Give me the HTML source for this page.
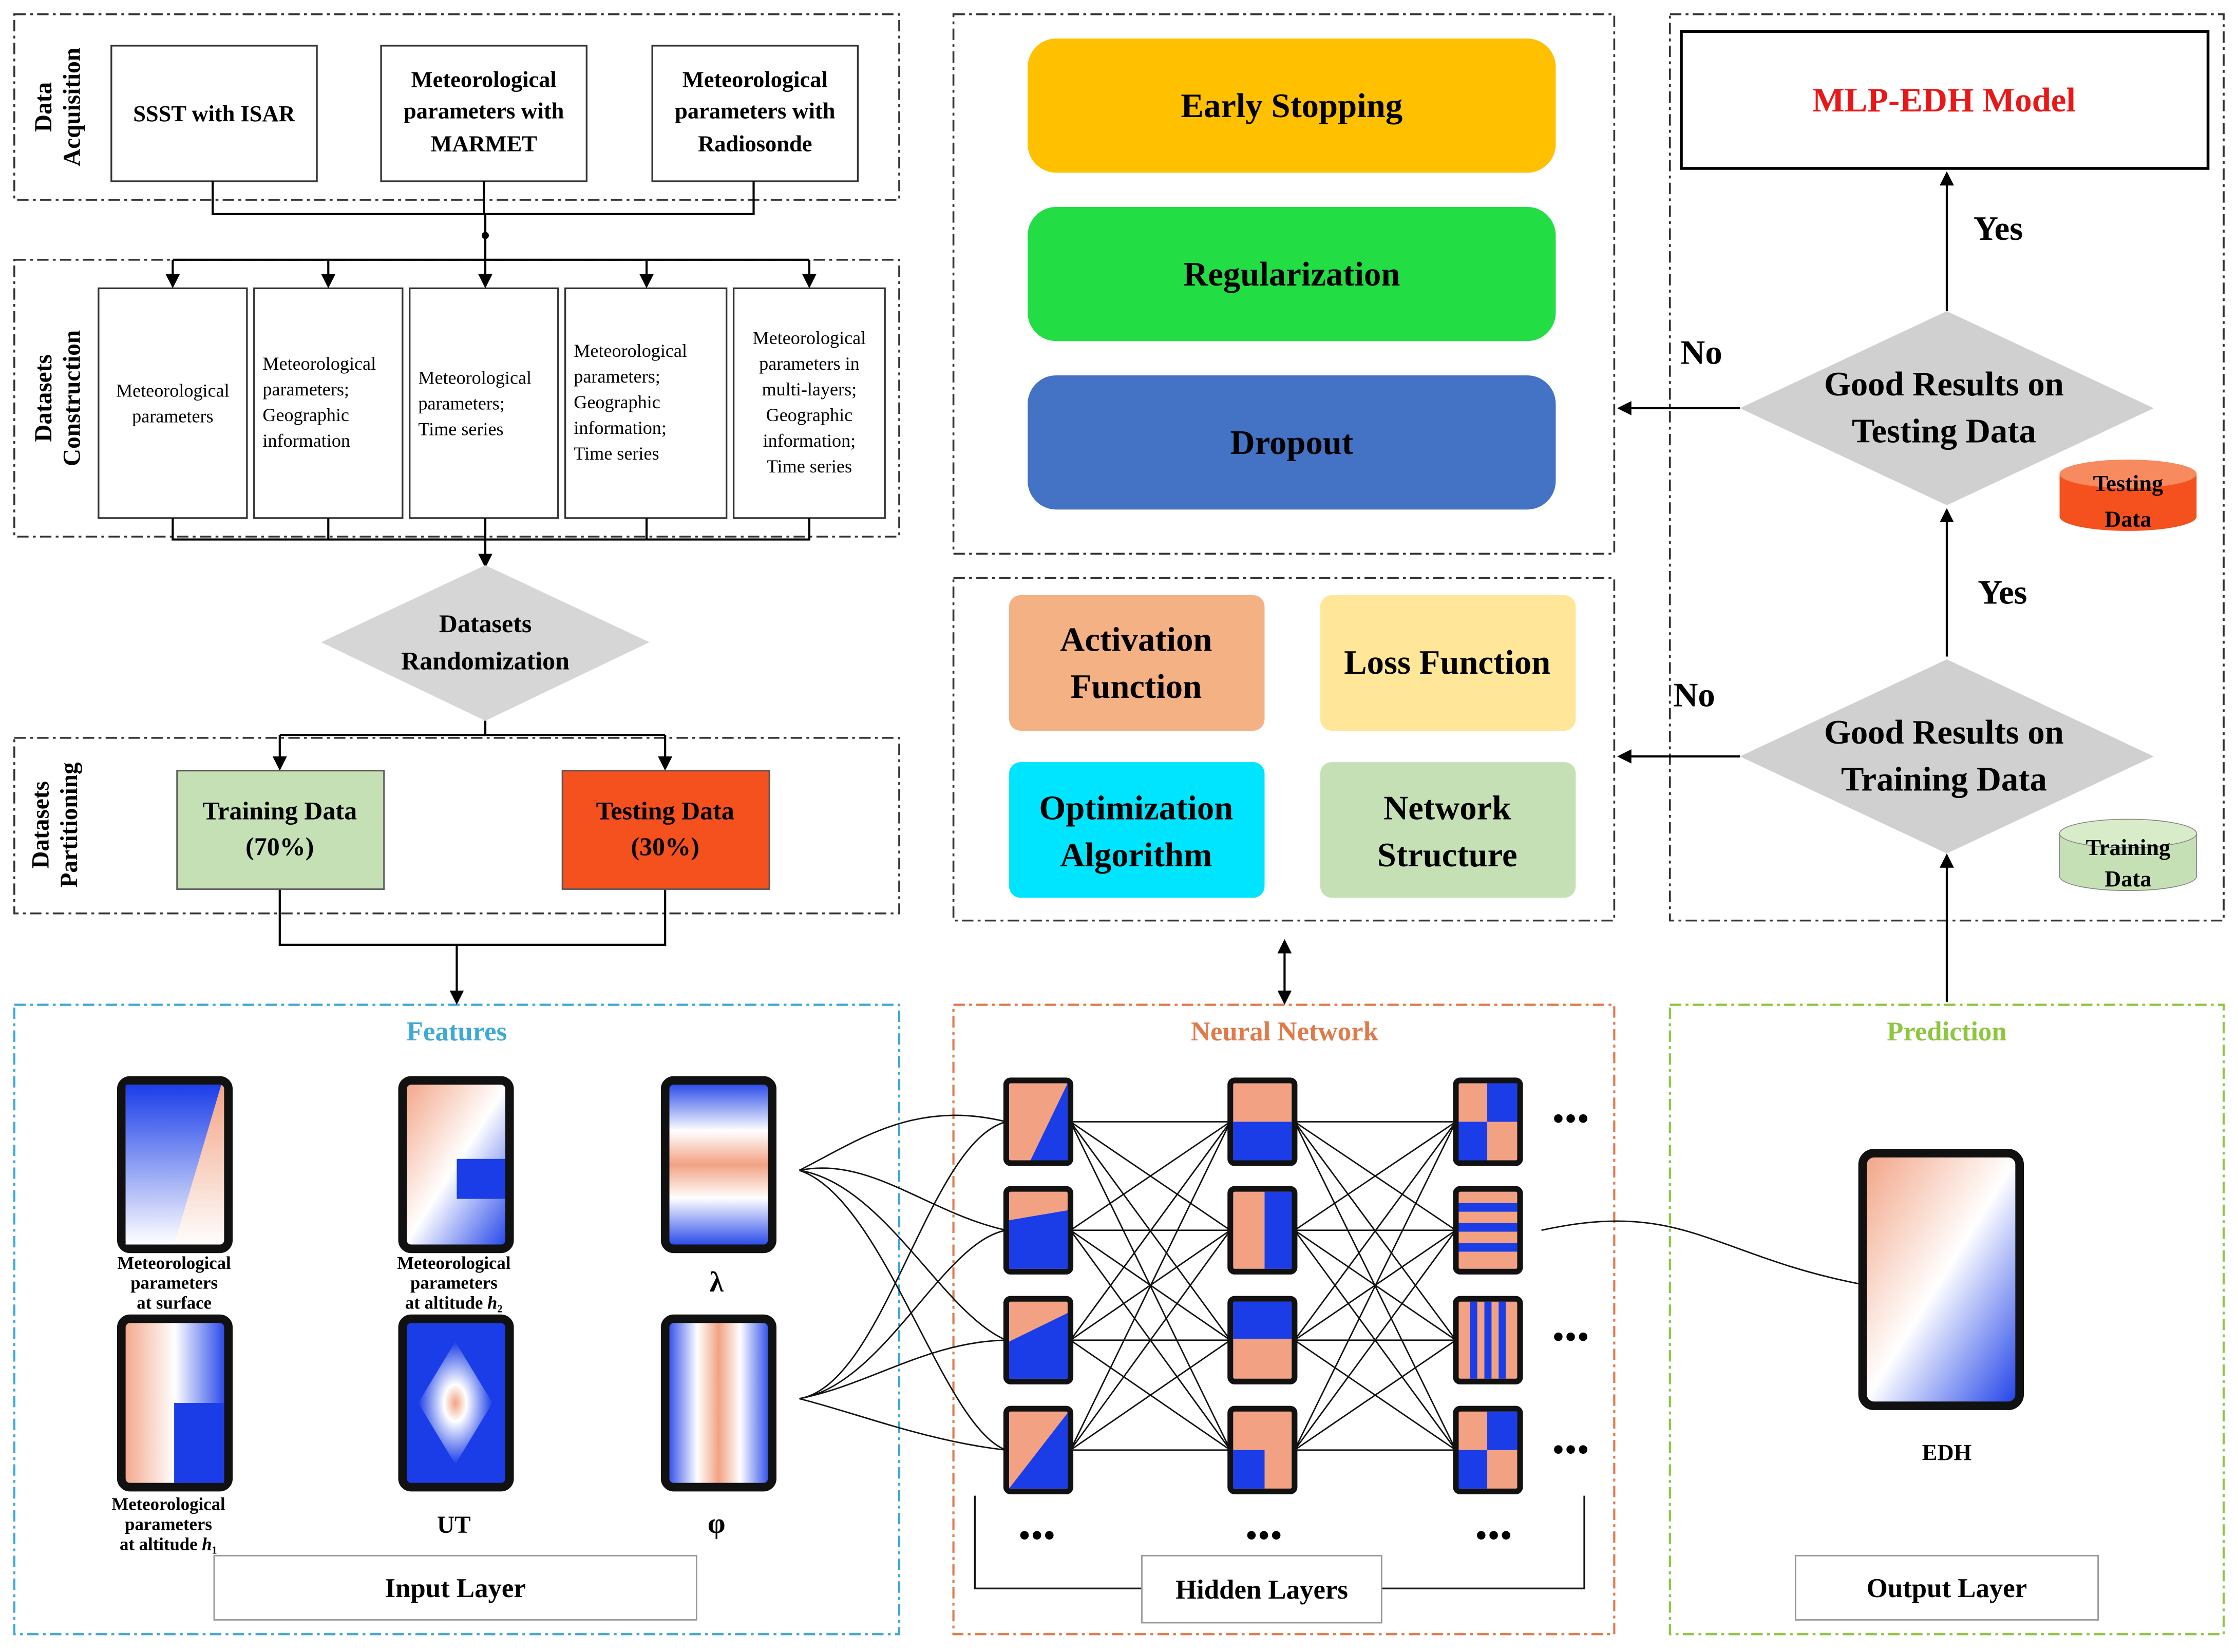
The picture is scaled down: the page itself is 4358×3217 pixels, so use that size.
<!DOCTYPE html>
<html><head><meta charset="utf-8"><style>html,body{margin:0;padding:0;background:#fff}svg{display:block}</style></head>
<body>
<svg xmlns="http://www.w3.org/2000/svg" width="4358" height="3217" viewBox="0 0 1568 1157.5" font-family="Liberation Serif, serif" font-weight="bold">
<defs>
<marker id="ar" markerWidth="10" markerHeight="10" refX="8" refY="5" orient="auto" markerUnits="userSpaceOnUse"><path d="M0,0 L10,5 L0,10 z" fill="#000"/></marker>
<marker id="ar2" markerWidth="10" markerHeight="10" refX="2" refY="5" orient="auto" markerUnits="userSpaceOnUse"><path d="M10,0 L0,5 L10,10 z" fill="#000"/></marker>
<linearGradient id="gv" x1="0" y1="0" x2="0" y2="1"><stop offset="0" stop-color="#f2a283"/><stop offset="1" stop-color="#fff"/></linearGradient>
<linearGradient id="gb" x1="0" y1="0" x2="0" y2="1"><stop offset="0" stop-color="#1a3de8"/><stop offset="1" stop-color="#fff"/></linearGradient>
<linearGradient id="g2" x1="0" y1="0" x2="0" y2="1"><stop offset="0" stop-color="#1a3de8"/><stop offset=".3" stop-color="#fff"/><stop offset=".5" stop-color="#f2a283"/><stop offset=".7" stop-color="#fff"/><stop offset="1" stop-color="#1a3de8"/></linearGradient>
<linearGradient id="g3" x1="0" y1="0" x2="1" y2="0"><stop offset="0" stop-color="#1a3de8"/><stop offset=".3" stop-color="#fff"/><stop offset=".5" stop-color="#f2a283"/><stop offset=".7" stop-color="#fff"/><stop offset="1" stop-color="#1a3de8"/></linearGradient>
<linearGradient id="g4" x1="0" y1="0" x2="1" y2="0"><stop offset="0" stop-color="#f2a283"/><stop offset=".5" stop-color="#fff"/><stop offset="1" stop-color="#1a3de8"/></linearGradient>
<linearGradient id="g5" x1="0" y1="0" x2="1" y2="1"><stop offset="0" stop-color="#f2a283"/><stop offset=".5" stop-color="#fff"/><stop offset="1" stop-color="#1a3de8"/></linearGradient>
<radialGradient id="g6"><stop offset="0" stop-color="#f2a283"/><stop offset=".3" stop-color="#fff"/><stop offset="1" stop-color="#1a3de8"/></radialGradient>
</defs>
<g fill="none" stroke="#333" stroke-width="1.3" stroke-dasharray="8,3,2,3">
<rect x="10" y="10" width="620" height="130"/>
<rect x="10" y="182" width="620" height="194"/>
<rect x="10" y="517" width="620" height="123"/>
<rect x="668" y="10" width="463" height="378"/>
<rect x="668" y="405" width="463" height="240"/>
<rect x="1170" y="10" width="388" height="635"/>
</g>
<g fill="none" stroke-width="1.5" stroke-dasharray="8,3,2,3">
<rect x="10" y="704" width="620" height="441" stroke="#3fa9d6"/>
<rect x="668" y="704" width="463" height="441" stroke="#e07a4a"/>
<rect x="1170" y="704" width="388" height="441" stroke="#8dc63f"/>
</g>
<g font-size="17" text-anchor="middle">
<text transform="translate(36,75) rotate(-90)">Data</text><text transform="translate(56,75) rotate(-90)">Acquisition</text>
<text transform="translate(36,279) rotate(-90)">Datasets</text><text transform="translate(56,279) rotate(-90)">Construction</text>
<text transform="translate(34,578) rotate(-90)">Datasets</text><text transform="translate(54,578) rotate(-90)">Partitioning</text>
</g>
<g fill="#fff" stroke="#333" stroke-width="1.2">
<rect x="78" y="32" width="144" height="95"/><rect x="267" y="32" width="144" height="95"/><rect x="457" y="32" width="144" height="95"/>
<rect x="69" y="202" width="104" height="161"/><rect x="178" y="202" width="104" height="161"/><rect x="287" y="202" width="104" height="161"/><rect x="396" y="202" width="113" height="161"/><rect x="514" y="202" width="106" height="161"/>
</g>
<g font-size="16" text-anchor="middle">
<text x="150" y="85">SSST with ISAR</text>
<text x="339" y="61">Meteorological</text><text x="339" y="83">parameters with</text><text x="339" y="106">MARMET</text>
<text x="529" y="61">Meteorological</text><text x="529" y="83">parameters with</text><text x="529" y="106">Radiosonde</text>
</g>
<g font-size="13" font-weight="normal">
<text x="121" y="278" text-anchor="middle">Meteorological</text><text x="121" y="296" text-anchor="middle">parameters</text>
<text x="184" y="259">Meteorological</text><text x="184" y="277">parameters;</text><text x="184" y="295">Geographic</text><text x="184" y="313">information</text>
<text x="293" y="269">Meteorological</text><text x="293" y="287">parameters;</text><text x="293" y="305">Time series</text>
<text x="402" y="250">Meteorological</text><text x="402" y="268">parameters;</text><text x="402" y="286">Geographic</text><text x="402" y="304">information;</text><text x="402" y="322">Time series</text>
<text x="567" y="241" text-anchor="middle">Meteorological</text><text x="567" y="259" text-anchor="middle">parameters in</text><text x="567" y="277" text-anchor="middle">multi-layers;</text><text x="567" y="295" text-anchor="middle">Geographic</text><text x="567" y="313" text-anchor="middle">information;</text><text x="567" y="331" text-anchor="middle">Time series</text>
</g>
<g fill="none" stroke="#000" stroke-width="1.5">
<path d="M149,127V150H528V127M339,127V150M340,150V182"/>
<path d="M121,182H567" />
<path d="M340,363V378"/>
<path d="M121,363V378H567V363M230,363V378M453,363V378"/>
<path d="M340,505V515H196M340,515H466"/>
<path d="M196,623V662H466V623"/>
</g>
<g fill="none" stroke="#000" stroke-width="1.5" marker-end="url(#ar)">
<path d="M121,182V200"/><path d="M230,182V200"/><path d="M340,182V200"/><path d="M453,182V200"/><path d="M567,182V200"/>
<path d="M340,378V396"/>
<path d="M196,515V538"/><path d="M466,515V538"/>
<path d="M320,662V702"/>
<path d="M900,660V702" marker-start="url(#ar2)"/>
<path d="M1364,218V122"/><path d="M1364,460V358"/><path d="M1364,702V600"/><path d="M1219,286H1135"/><path d="M1219,530H1135"/>
</g>
<circle cx="340" cy="165" r="2.5"/>
<polygon points="340,396 455,450 340,505 225,450" fill="#d6d6d6"/>
<text x="340" y="443" font-size="18" text-anchor="middle">Datasets</text><text x="340" y="469" font-size="18" text-anchor="middle">Randomization</text>
<rect x="124" y="540" width="145" height="83" fill="#c5e0b4" stroke="#555"/>
<rect x="394" y="540" width="145" height="83" fill="#f4511e" stroke="#555"/>
<g font-size="18" text-anchor="middle"><text x="196" y="574">Training Data</text><text x="196" y="599">(70%)</text><text x="466" y="574">Testing Data</text><text x="466" y="599">(30%)</text></g>
<rect x="720" y="27" width="370" height="94" rx="20" fill="#ffc000"/>
<rect x="720" y="145" width="370" height="94" rx="20" fill="#22dd44"/>
<rect x="720" y="263" width="370" height="94" rx="20" fill="#4472c4"/>
<g font-size="24" text-anchor="middle"><text x="905" y="82">Early Stopping</text><text x="905" y="200">Regularization</text><text x="905" y="318">Dropout</text></g>
<rect x="707" y="417" width="179" height="95" rx="8" fill="#f4b183"/>
<rect x="925" y="417" width="179" height="95" rx="8" fill="#ffe699"/>
<rect x="707" y="534" width="179" height="95" rx="8" fill="#00e5ff"/>
<rect x="925" y="534" width="179" height="95" rx="8" fill="#c5e0b4"/>
<g font-size="24" text-anchor="middle"><text x="796" y="456">Activation</text><text x="796" y="489">Function</text><text x="1014" y="472">Loss Function</text><text x="796" y="574">Optimization</text><text x="796" y="607">Algorithm</text><text x="1014" y="574">Network</text><text x="1014" y="607">Structure</text></g>
<rect x="1178" y="22" width="369" height="96" fill="#fff" stroke="#000" stroke-width="2"/>
<text x="1362" y="78" font-size="24" fill="#e81818" text-anchor="middle">MLP-EDH Model</text>
<polygon points="1364,218 1509,286 1364,354 1219,286" fill="#d0d0d0"/>
<polygon points="1364,462 1509,530 1364,598 1219,530" fill="#d0d0d0"/>
<g font-size="24" text-anchor="middle"><text x="1362" y="277">Good Results on</text><text x="1362" y="310">Testing Data</text><text x="1362" y="521">Good Results on</text><text x="1362" y="554">Training Data</text>
<text x="1400" y="168">Yes</text><text x="1403" y="423">Yes</text><text x="1192" y="255">No</text><text x="1187" y="495">No</text></g>
<path d="M1443,332V362A48,10 0 0 0 1539,362V332Z" fill="#f4511e"/><ellipse cx="1491" cy="332" rx="48" ry="10" fill="#f88a60"/>
<path d="M1443,584V614A48,10 0 0 0 1539,614V584Z" fill="#c5e0b4" stroke="#888" stroke-width=".6"/><ellipse cx="1491" cy="584" rx="48" ry="10" fill="#d8ecc9" stroke="#888" stroke-width=".6"/>
<g font-size="16" text-anchor="middle"><text x="1491" y="344">Testing</text><text x="1491" y="369">Data</text><text x="1491" y="599">Training</text><text x="1491" y="621">Data</text></g>
<g font-size="19" text-anchor="middle"><text x="320" y="729" fill="#3fa9d6">Features</text><text x="900" y="729" fill="#e07a4a">Neural Network</text><text x="1364" y="729" fill="#8dc63f">Prediction</text></g>
<g stroke="#111" stroke-width="6">
<rect x="85" y="757" width="75" height="118" rx="6" fill="url(#gv)"/>
<rect x="282" y="757" width="75" height="118" rx="6" fill="url(#g5)"/>
<rect x="466" y="757" width="75" height="118" rx="6" fill="url(#g2)"/>
<rect x="85" y="924" width="75" height="118" rx="6" fill="url(#g4)"/>
<rect x="282" y="924" width="75" height="118" rx="6" fill="#1a3de8"/>
<rect x="466" y="924" width="75" height="118" rx="6" fill="url(#g3)"/>
<rect x="1305" y="808" width="110" height="177" rx="8" fill="url(#g5)"/>
</g>
<polygon points="88,760 155,760 122,872 88,872" fill="url(#gb)"/>
<rect x="320" y="812" width="34" height="28" fill="#1a3de8"/>
<rect x="122" y="983" width="35" height="56" fill="#1a3de8"/>
<polygon points="319,940 345,983 319,1026 293,983" fill="url(#g6)"/>
<g font-size="12.5" text-anchor="middle">
<text x="122" y="889">Meteorological</text><text x="122" y="903">parameters</text><text x="122" y="917">at surface</text>
<text x="318" y="889">Meteorological</text><text x="318" y="903">parameters</text><text x="318" y="917">at altitude <tspan font-style="italic">h</tspan>₂</text>
<text x="118" y="1058">Meteorological</text><text x="118" y="1072">parameters</text><text x="118" y="1086">at altitude <tspan font-style="italic">h</tspan>₁</text>
</g>
<g font-size="20" text-anchor="middle"><text x="502" y="905">λ</text><text x="318" y="1074" font-size="17">UT</text><text x="502" y="1074">φ</text></g>
<rect x="150" y="1090" width="338" height="45" fill="#fff" stroke="#999"/>
<text x="319" y="1119" font-size="19" text-anchor="middle">Input Layer</text>
<g fill="none" stroke="#111" stroke-width="1">
<path d="M560,820C600,800 640,770 705,786M560,820C610,810 650,850 705,862M560,820C620,830 660,920 705,939M560,820C620,840 660,1000 705,1016"/>
<path d="M560,980C620,970 650,800 705,786M560,980C620,970 660,870 705,862M560,980C610,970 650,940 705,939M560,980C600,990 650,1010 705,1016"/>
<path d="M1080,862C1180,840 1200,880 1305,900"/>
</g>
<g stroke="#111" stroke-width="1">
<path d="M750,786L862,786M750,786L862,862M750,786L862,939M750,786L862,1016M750,862L862,786M750,862L862,862M750,862L862,939M750,862L862,1016M750,939L862,786M750,939L862,862M750,939L862,939M750,939L862,1016M750,1016L862,786M750,1016L862,862M750,1016L862,939M750,1016L862,1016"/>
<path d="M907,786L1020,786M907,786L1020,862M907,786L1020,939M907,786L1020,1016M907,862L1020,786M907,862L1020,862M907,862L1020,939M907,862L1020,1016M907,939L1020,786M907,939L1020,862M907,939L1020,939M907,939L1020,1016M907,1016L1020,786M907,1016L1020,862M907,1016L1020,939M907,1016L1020,1016"/>
</g>
<g stroke="#111" stroke-width="4">
<rect x="705" y="757" width="45" height="58" rx="3" fill="#f2a283"/><rect x="705" y="833" width="45" height="58" rx="3" fill="#f2a283"/><rect x="705" y="910" width="45" height="58" rx="3" fill="#f2a283"/><rect x="705" y="987" width="45" height="58" rx="3" fill="#f2a283"/>
<rect x="862" y="757" width="45" height="58" rx="3" fill="#f2a283"/><rect x="862" y="833" width="45" height="58" rx="3" fill="#f2a283"/><rect x="862" y="910" width="45" height="58" rx="3" fill="#f2a283"/><rect x="862" y="987" width="45" height="58" rx="3" fill="#f2a283"/>
<rect x="1020" y="757" width="45" height="58" rx="3" fill="#f2a283"/><rect x="1020" y="833" width="45" height="58" rx="3" fill="#f2a283"/><rect x="1020" y="910" width="45" height="58" rx="3" fill="#f2a283"/><rect x="1020" y="987" width="45" height="58" rx="3" fill="#f2a283"/>
</g>
<g fill="#1a3de8">
<polygon points="748,759 748,813 722,813"/><polygon points="707,855 748,848 748,889 707,889"/><polygon points="707,940 748,920 748,966 707,966"/><polygon points="707,1043 748,990 748,1043"/>
<rect x="864" y="786" width="41" height="27"/><rect x="886" y="835" width="19" height="54"/><rect x="864" y="912" width="41" height="26"/><rect x="864" y="1016" width="22" height="27"/>
<rect x="1042" y="759" width="21" height="27"/><rect x="1022" y="786" width="20" height="27"/>
<rect x="1022" y="843" width="41" height="6"/><rect x="1022" y="857" width="41" height="6"/><rect x="1022" y="871" width="41" height="6"/>
<rect x="1030" y="912" width="5" height="54"/><rect x="1040" y="912" width="5" height="54"/><rect x="1050" y="912" width="5" height="54"/>
<rect x="1042" y="989" width="21" height="27"/><rect x="1022" y="1016" width="20" height="27"/>
</g>
<g font-size="22" text-anchor="middle" letter-spacing="1"><text x="1101" y="791">•••</text><text x="1101" y="944">•••</text><text x="1101" y="1023">•••</text><text x="727" y="1083">•••</text><text x="886" y="1083">•••</text><text x="1047" y="1083">•••</text></g>
<path d="M683,1048V1113H1110V1048" fill="none" stroke="#111" stroke-width="1.2"/>
<rect x="800" y="1090" width="168" height="47" fill="#fff" stroke="#999"/>
<text x="884" y="1120" font-size="19" text-anchor="middle">Hidden Layers</text>
<text x="1364" y="1023" font-size="16" text-anchor="middle">EDH</text>
<rect x="1258" y="1090" width="212" height="45" fill="#fff" stroke="#999"/>
<text x="1364" y="1119" font-size="19" text-anchor="middle">Output Layer</text>
</svg>
</body></html>
